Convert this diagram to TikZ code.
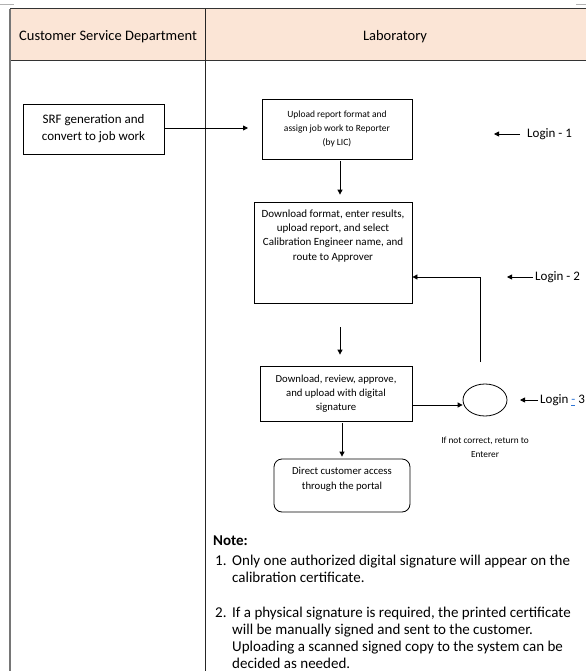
\documentclass[tikz,border=0pt]{standalone}
\usepackage{fontspec}
\setmainfont{Carlito}
\usetikzlibrary{arrows.meta,shapes.geometric}
\definecolor{headfill}{HTML}{FBE5D6}
\definecolor{lanegray}{HTML}{767676}
\definecolor{spellblue}{HTML}{2E75D6}

\begin{document}
\begin{tikzpicture}[x=1pt,y=-1pt,
    stepbox/.style={draw=black,line width=0.8pt,align=center,inner sep=1pt,font=\fontsize{10.7}{14.2}\selectfont},
    flow/.style={-{Triangle[length=5pt,width=5pt]},line width=0.8pt},
    login/.style={anchor=west,inner sep=0pt,font=\fontsize{13}{15}\selectfont},
    notetext/.style={anchor=north west,inner sep=0pt,font=\fontsize{15}{17}\selectfont}]
  \useasboundingbox (0,0) rectangle (586,671);
  % swimlanes
  \fill[headfill] (10,9) rectangle (586,61);
  \draw[black!80,line width=1pt] (10,9) -- (586,9);
  \draw[black!80,line width=1pt] (10,61) -- (586,61);
  \draw[lanegray,line width=1.5pt] (10,9) -- (10,671);
  \draw[black!85,line width=1.5pt] (205.5,9) -- (205.5,671);
  \draw[black!30] (0,4) -- (14,4);
  \draw[black!30] (576,4) -- (586,4);
  \node (csd) at (108,37) [font=\fontsize{14.5}{17}\selectfont] {Customer Service Department};
  \node (lab) at (395,37) [font=\fontsize{14.5}{17}\selectfont] {Laboratory};

  % steps
  \node[stepbox, minimum width=141pt, minimum height=50pt, font=\fontsize{13}{17}\selectfont] (srf) at (93.5,129) {SRF generation and\\convert to job work};
  \node[stepbox, minimum width=150pt, minimum height=60pt, font=\fontsize{9.5}{14.3}\selectfont] (upload) at (337,129) {Upload report format and\\assign job work to Reporter\\(by LIC)};
  \node[stepbox, minimum width=158pt, minimum height=101pt, inner sep=0pt, font=\fontsize{11}{14.3}\selectfont] (download) at (333,252.5)
    {\parbox[t][96pt][t]{154pt}{\centering\vspace{5pt}Download format, enter results,\\upload report, and select\\Calibration Engineer name, and\\route to Approver}};
  \node[stepbox, minimum width=152pt, minimum height=55pt] (approve) at (336,393.5) {Download, review, approve,\\and upload with digital\\signature};
  \node[stepbox, rounded corners=8pt, minimum width=136pt, minimum height=53pt, inner sep=0pt, font=\fontsize{10.7}{15}\selectfont] (portal) at (342,485.5)
    {\parbox[t][48pt][t]{132pt}{\centering\vspace{6pt}Direct customer access\\through the portal}};
  \node[draw=black, line width=0.8pt, ellipse, minimum width=44pt, minimum height=32pt] (retcirc) at (485,400) {};
  \node (retnote) at (485,447) [align=center, font=\fontsize{9.3}{14}\selectfont] {If not correct, return to\\Enterer};

  % logins
  \node[login] (login1) at (527,134) {Login - 1};
  \node[login] (login2) at (535,277) {Login - 2};
  \node[login] (login3) at (540,400) {Login \textcolor{spellblue}{\underline{-}} 3};
  \coordinate (retstart) at (480,362);
  \coordinate (srfend) at (248,128);

  % connectors
  \draw[flow] (srf.east |- srfend) -- (srfend);
  \draw[flow, shorten >=7pt, shorten <=2pt] ([xshift=3pt]upload.south) -- ([xshift=3pt]upload.south |- download.north);
  \draw[flow, shorten <=24pt, shorten >=11pt] ([xshift=7pt]download.south) -- ([xshift=7pt]download.south |- approve.north);
  \draw[flow] ([yshift=-11.5pt]approve.east) -- ([yshift=-11.5pt]approve.east -| retcirc.west);
  \draw[flow] (retstart) |- ([yshift=-24.5pt]download.east);
  \draw[flow, shorten <=2pt, shorten >=2pt] ([xshift=6pt]approve.south) -- ([xshift=6pt]approve.south |- portal.north);
  \draw[flow, shorten <=7pt] (login1.west) -- ++(-33,0);
  \draw[flow, shorten <=2pt] (login2.west) -- ++(-28,0);
  \draw[flow, shorten <=2pt] (login3.west) -- ++(-20,0);

  % note
  \node[notetext] (notehead) at (213,536) {\bfseries Note:};
  \node[notetext] (noteone) at (215,553) {\begin{tabular}{@{}p{17pt}@{}l@{}}1. & Only one authorized digital signature will appear on the\\ & calibration certificate.\end{tabular}};
  \node[notetext] (notetwo) at (215,605) {\begin{tabular}{@{}p{17pt}@{}l@{}}2. & If a physical signature is required, the printed certificate\\ & will be manually signed and sent to the customer.\\ & Uploading a scanned signed copy to the system can be\\ & decided as needed.\end{tabular}};
\end{tikzpicture}
\end{document}
